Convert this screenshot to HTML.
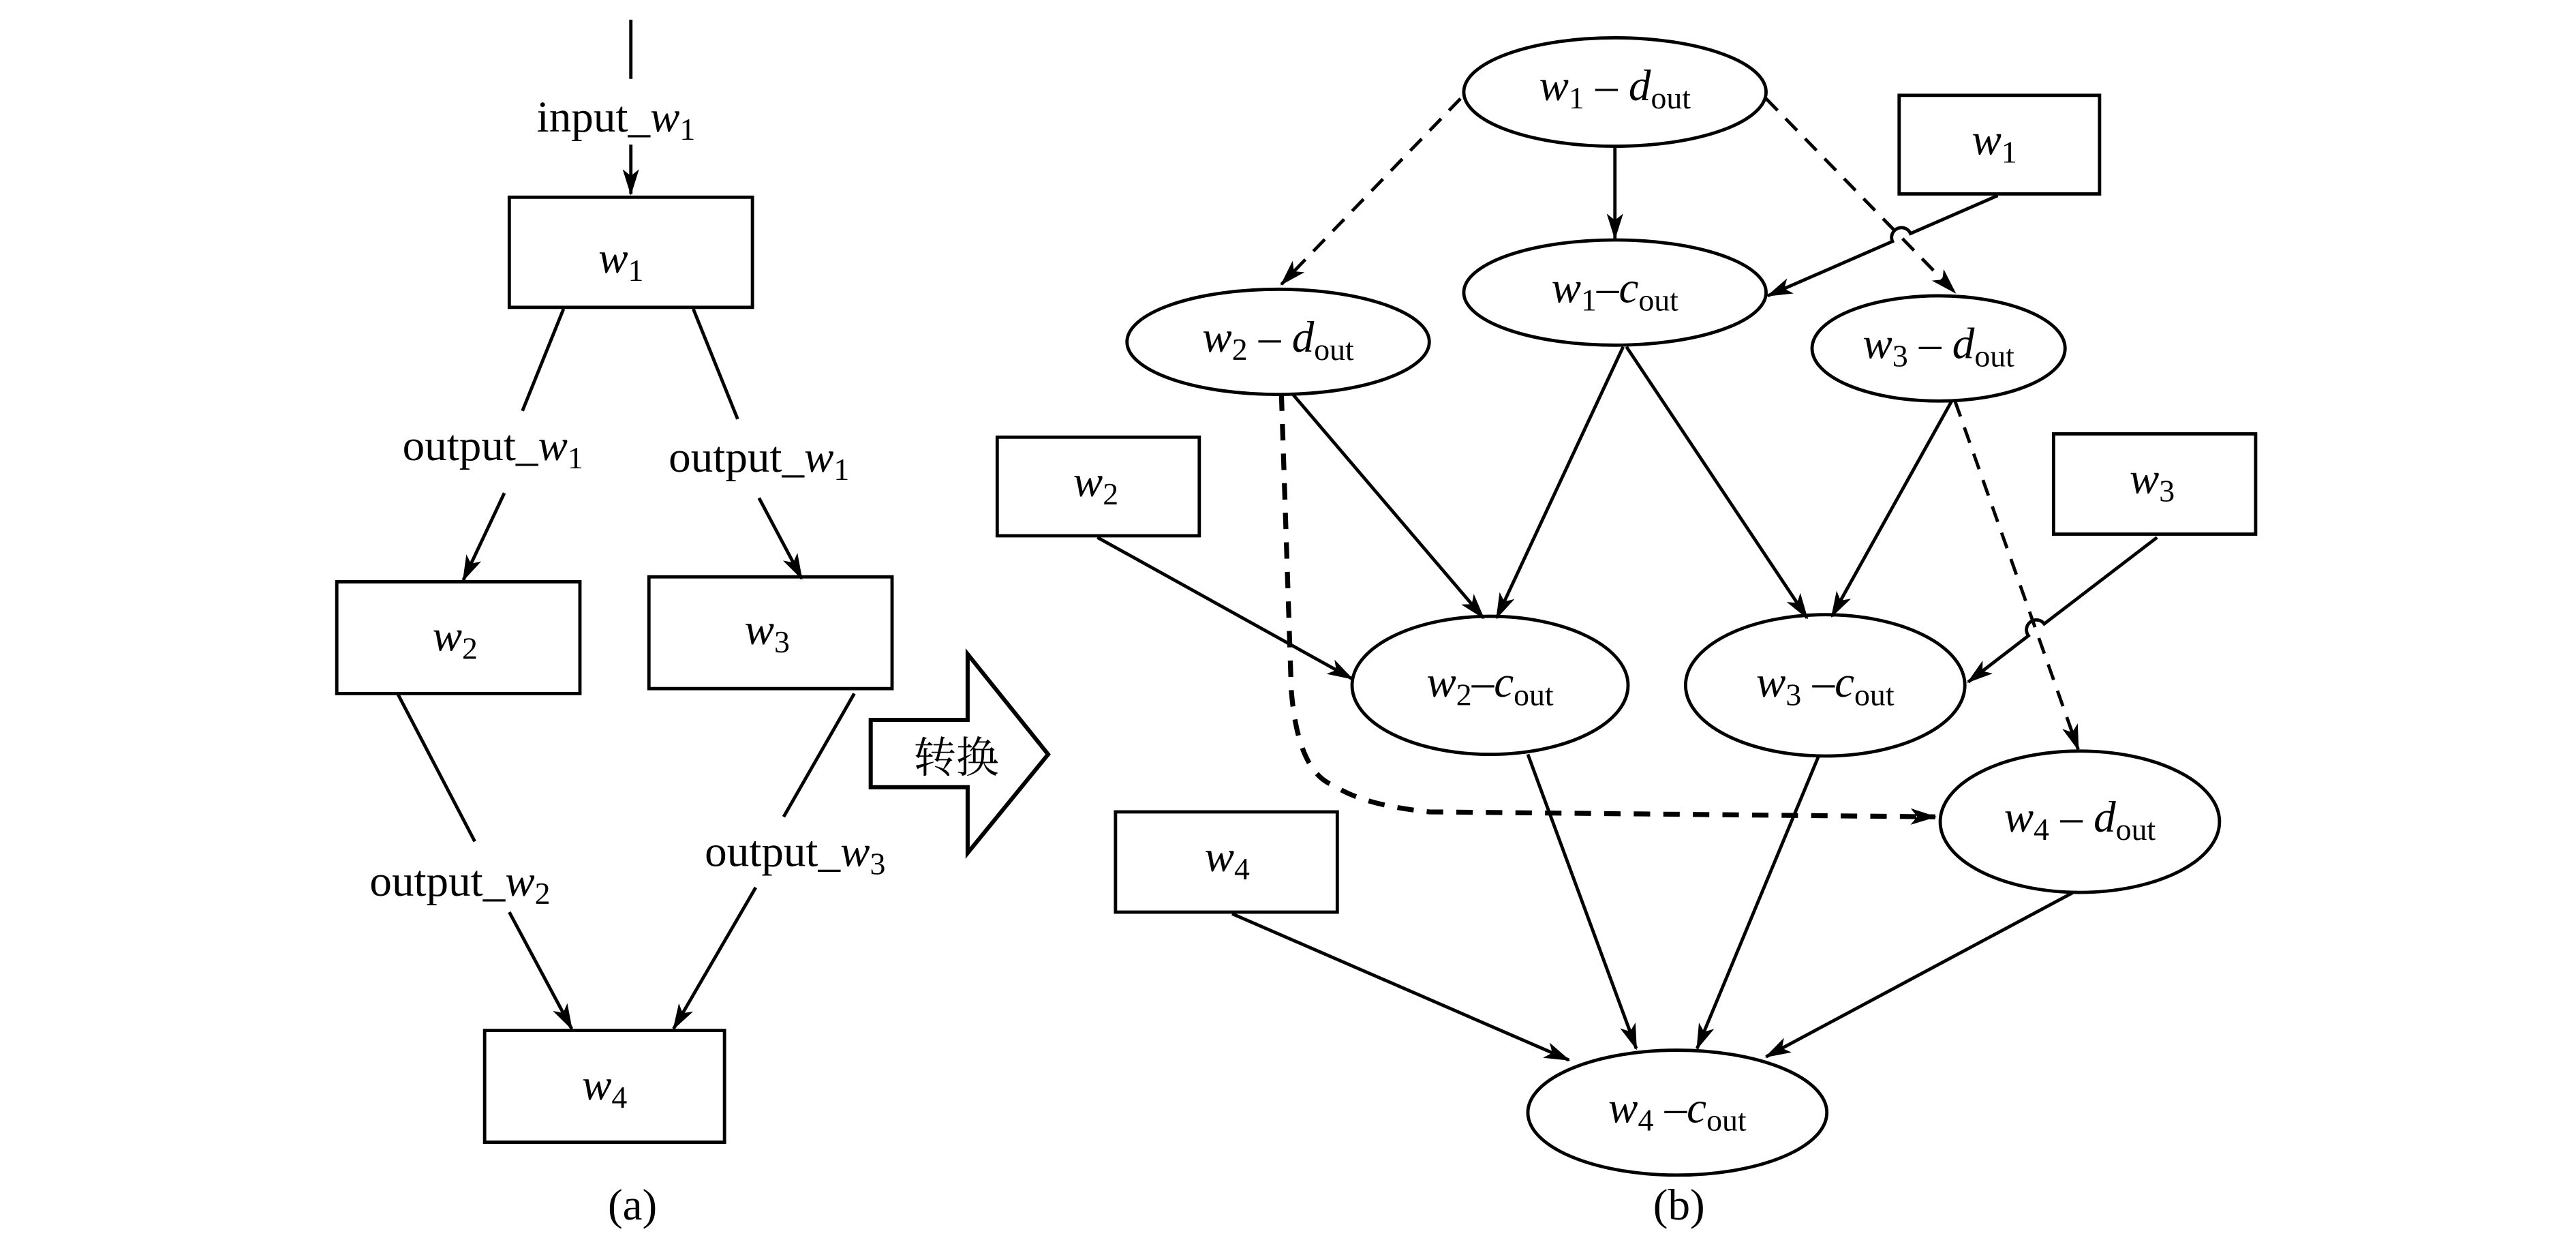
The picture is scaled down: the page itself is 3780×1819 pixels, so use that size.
<!DOCTYPE html>
<html><head><meta charset="utf-8"><style>
html,body{margin:0;padding:0;background:#fff;width:3780px;height:1819px;overflow:hidden}
svg{display:block}
text{font-family:"Liberation Serif","Noto Serif CJK SC",serif;fill:#000}
</style></head><body>
<svg width="3780" height="1819" viewBox="0 0 1568 754.5" preserveAspectRatio="none" xmlns="http://www.w3.org/2000/svg">
<defs>
<marker id="a" viewBox="0 0 16 10" refX="15" refY="5" markerWidth="16" markerHeight="10" markerUnits="userSpaceOnUse" orient="auto">
<path d="M0,0 L16,5 L0,10 L4,5 z" fill="#000"/>
</marker>
</defs>
<g stroke="#000" stroke-width="2" fill="none">
<line x1="384" y1="12" x2="384" y2="48"/>
<line x1="384" y1="88" x2="384" y2="118" marker-end="url(#a)"/>
<rect x="310" y="120" width="148" height="67"/>
<line x1="343" y1="188" x2="318" y2="250"/>
<line x1="307" y1="300" x2="282" y2="353" marker-end="url(#a)"/>
<line x1="422" y1="188" x2="449" y2="255"/>
<line x1="462" y1="303" x2="488" y2="352" marker-end="url(#a)"/>
<rect x="205" y="354" width="148" height="68"/>
<rect x="395" y="351" width="148" height="68"/>
<line x1="242" y1="422" x2="289" y2="512"/>
<line x1="310" y1="555" x2="348" y2="626" marker-end="url(#a)"/>
<line x1="520" y1="422" x2="477" y2="497"/>
<line x1="460" y1="540" x2="410" y2="626" marker-end="url(#a)"/>
<rect x="295" y="627" width="146" height="68"/>
<polygon points="530,438 589,438 589,398 638,459 589,519 589,479 530,479" stroke-width="2.5" stroke-linejoin="miter"/>
<ellipse cx="983" cy="56" rx="92" ry="33"/>
<ellipse cx="983" cy="178" rx="92" ry="32"/>
<ellipse cx="778" cy="208" rx="92" ry="32"/>
<ellipse cx="1180" cy="212" rx="77" ry="32"/>
<ellipse cx="907" cy="417" rx="84" ry="42"/>
<ellipse cx="1111" cy="417" rx="85" ry="43"/>
<ellipse cx="1266" cy="500" rx="85" ry="43"/>
<ellipse cx="1021" cy="677" rx="91" ry="38"/>
<rect x="1156" y="58" width="122" height="60"/>
<rect x="607" y="266" width="123" height="60"/>
<rect x="1250" y="264" width="123" height="61"/>
<rect x="679" y="494" width="135" height="61"/>
<line x1="983" y1="90" x2="983" y2="145" marker-end="url(#a)"/>
<line x1="889" y1="60" x2="780" y2="173" stroke-dasharray="10 7" marker-end="url(#a)"/>
<line x1="1075" y1="60" x2="1190" y2="178" stroke-dasharray="10 7" marker-end="url(#a)"/>
<path d="M1216 119 L1162.9 142.1 A6 6 0 0 0 1151.9 146.9 L1076 180" marker-end="url(#a)"/>
<line x1="787" y1="240" x2="903" y2="376" marker-end="url(#a)"/>
<path d="M780 240 L786 420 Q790 470 812 478 Q830 490 870 494 L1178 497" stroke-width="3" stroke-dasharray="10 8" marker-end="url(#a)"/>
<line x1="988" y1="211" x2="911" y2="376" marker-end="url(#a)"/>
<line x1="990" y1="211" x2="1100" y2="376" marker-end="url(#a)"/>
<line x1="1188" y1="244" x2="1115" y2="375" marker-end="url(#a)"/>
<line x1="1190" y1="244" x2="1265" y2="456" stroke-dasharray="10 7" marker-end="url(#a)"/>
<line x1="668" y1="327" x2="823" y2="413" marker-end="url(#a)"/>
<path d="M1313 327 L1244.3 379.6 A6 6 0 0 0 1234.7 386.8 L1198 415" marker-end="url(#a)"/>
<line x1="930" y1="459" x2="996" y2="638" marker-end="url(#a)"/>
<line x1="1107" y1="460" x2="1033" y2="638" marker-end="url(#a)"/>
<line x1="750" y1="556" x2="955" y2="645" marker-end="url(#a)"/>
<line x1="1262" y1="543" x2="1075" y2="643" marker-end="url(#a)"/>
</g>
<g font-size="27">
<text x="375" y="80" text-anchor="middle">input_<tspan font-style="italic">w</tspan><tspan font-size="19" dy="5">1</tspan></text>
<text x="378" y="166" text-anchor="middle"><tspan font-style="italic">w</tspan><tspan font-size="19" dy="5">1</tspan></text>
<text x="300" y="280" text-anchor="middle">output_<tspan font-style="italic">w</tspan><tspan font-size="19" dy="5">1</tspan></text>
<text x="462" y="287" text-anchor="middle">output_<tspan font-style="italic">w</tspan><tspan font-size="19" dy="5">1</tspan></text>
<text x="277" y="396" text-anchor="middle"><tspan font-style="italic">w</tspan><tspan font-size="19" dy="5">2</tspan></text>
<text x="467" y="392" text-anchor="middle"><tspan font-style="italic">w</tspan><tspan font-size="19" dy="5">3</tspan></text>
<text x="280" y="545" text-anchor="middle">output_<tspan font-style="italic">w</tspan><tspan font-size="19" dy="5">2</tspan></text>
<text x="484" y="527" text-anchor="middle">output_<tspan font-style="italic">w</tspan><tspan font-size="19" dy="5">3</tspan></text>
<text x="368" y="669" text-anchor="middle"><tspan font-style="italic">w</tspan><tspan font-size="19" dy="5">4</tspan></text>
<text x="385" y="742" text-anchor="middle">(a)</text>
<text x="556" y="470" font-size="26" font-family="Noto Serif CJK SC, serif">转换</text>
<text x="983" y="61" text-anchor="middle"><tspan font-style="italic">w</tspan><tspan font-size="19" dy="5">1</tspan><tspan dy="-5"> – </tspan><tspan font-style="italic">d</tspan><tspan font-size="19" dy="5">out</tspan></text>
<text x="983" y="184" text-anchor="middle"><tspan font-style="italic">w</tspan><tspan font-size="19" dy="5">1</tspan><tspan dy="-5">–</tspan><tspan font-style="italic">c</tspan><tspan font-size="19" dy="5">out</tspan></text>
<text x="778" y="214" text-anchor="middle"><tspan font-style="italic">w</tspan><tspan font-size="19" dy="5">2</tspan><tspan dy="-5"> – </tspan><tspan font-style="italic">d</tspan><tspan font-size="19" dy="5">out</tspan></text>
<text x="1180" y="218" text-anchor="middle"><tspan font-style="italic">w</tspan><tspan font-size="19" dy="5">3</tspan><tspan dy="-5"> – </tspan><tspan font-style="italic">d</tspan><tspan font-size="19" dy="5">out</tspan></text>
<text x="907" y="424" text-anchor="middle"><tspan font-style="italic">w</tspan><tspan font-size="19" dy="5">2</tspan><tspan dy="-5">–</tspan><tspan font-style="italic">c</tspan><tspan font-size="19" dy="5">out</tspan></text>
<text x="1111" y="424" text-anchor="middle"><tspan font-style="italic">w</tspan><tspan font-size="19" dy="5">3</tspan><tspan dy="-5"> –</tspan><tspan font-style="italic">c</tspan><tspan font-size="19" dy="5">out</tspan></text>
<text x="1266" y="506" text-anchor="middle"><tspan font-style="italic">w</tspan><tspan font-size="19" dy="5">4</tspan><tspan dy="-5"> – </tspan><tspan font-style="italic">d</tspan><tspan font-size="19" dy="5">out</tspan></text>
<text x="1021" y="683" text-anchor="middle"><tspan font-style="italic">w</tspan><tspan font-size="19" dy="5">4</tspan><tspan dy="-5"> –</tspan><tspan font-style="italic">c</tspan><tspan font-size="19" dy="5">out</tspan></text>
<text x="1214" y="94" text-anchor="middle"><tspan font-style="italic">w</tspan><tspan font-size="19" dy="5">1</tspan></text>
<text x="667" y="302" text-anchor="middle"><tspan font-style="italic">w</tspan><tspan font-size="19" dy="5">2</tspan></text>
<text x="1310" y="300" text-anchor="middle"><tspan font-style="italic">w</tspan><tspan font-size="19" dy="5">3</tspan></text>
<text x="747" y="530" text-anchor="middle"><tspan font-style="italic">w</tspan><tspan font-size="19" dy="5">4</tspan></text>
<text x="1022" y="742" text-anchor="middle">(b)</text>
</g>
</svg>
</body></html>
